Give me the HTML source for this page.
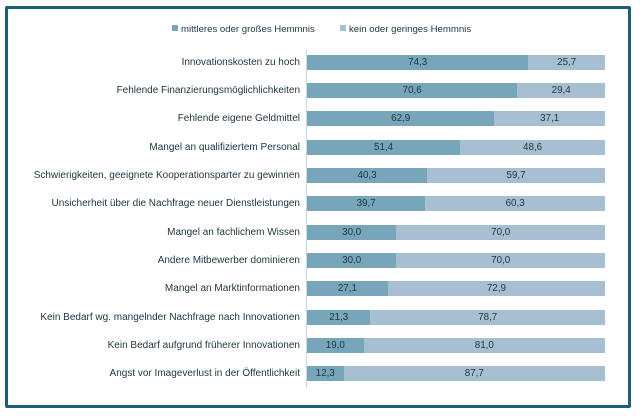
<!DOCTYPE html>
<html><head><style>
body{margin:0;width:640px;height:416px;background:#fff;font-family:"Liberation Sans",sans-serif;position:relative;overflow:hidden}
.frame{position:absolute;left:5px;top:6px;width:620px;height:396px;border:3px solid #1e5d78;border-radius:2px}
.lbl{position:absolute;right:340px;font-size:10px;color:#1f3440;white-space:nowrap;line-height:15px}
.bar{position:absolute;left:307px;height:15px;width:298px;display:flex;font-size:9.8px;color:#1f3440;line-height:15px}
.a{background:#77a5ba;text-align:center}
.b{background:#a6c0d2;text-align:center;flex:1}
.axis{position:absolute;left:306px;top:50px;width:1px;height:338px;background:#c9d6de}
.leg{position:absolute;top:24px;font-size:9.6px;color:#1f3440}
.sq{display:inline-block;width:6px;height:6px;margin-right:3px;vertical-align:1px}
</style></head><body>
<div class="frame"></div>
<div class="leg" style="left:172px"><span class="sq" style="background:#77a5ba"></span>mittleres oder großes Hemmnis</div>
<div class="leg" style="left:340px"><span class="sq" style="background:#a6c0d2"></span>kein oder geringes Hemmnis</div>
<div class="axis"></div>
<div id="c"></div>
<script>
const d=[["Innovationskosten zu hoch","74,3","25,7"],["Fehlende Finanzierungsmöglichlichkeiten","70,6","29,4"],["Fehlende eigene Geldmittel","62,9","37,1"],["Mangel an qualifiziertem Personal","51,4","48,6"],["Schwierigkeiten, geeignete Kooperationsparter zu gewinnen","40,3","59,7"],["Unsicherheit über die Nachfrage neuer Dienstleistungen","39,7","60,3"],["Mangel an fachlichem Wissen","30,0","70,0"],["Andere Mitbewerber dominieren","30,0","70,0"],["Mangel an Marktinformationen","27,1","72,9"],["Kein Bedarf wg. mangelnder Nachfrage nach Innovationen","21,3","78,7"],["Kein Bedarf aufgrund früherer Innovationen","19,0","81,0"],["Angst vor Imageverlust in der Öffentlichkeit","12,3","87,7"]];
let h="";d.forEach((r,i)=>{const y=54.5+i*28.36;const w=parseFloat(r[1].replace(",","."))*2.98;
h+=`<div class="lbl" style="top:${y}px">${r[0]}</div><div class="bar" style="top:${y}px"><div class="a" style="width:${w}px">${r[1]}</div><div class="b">${r[2]}</div></div>`});
document.getElementById("c").innerHTML=h;
</script>
</body></html>
